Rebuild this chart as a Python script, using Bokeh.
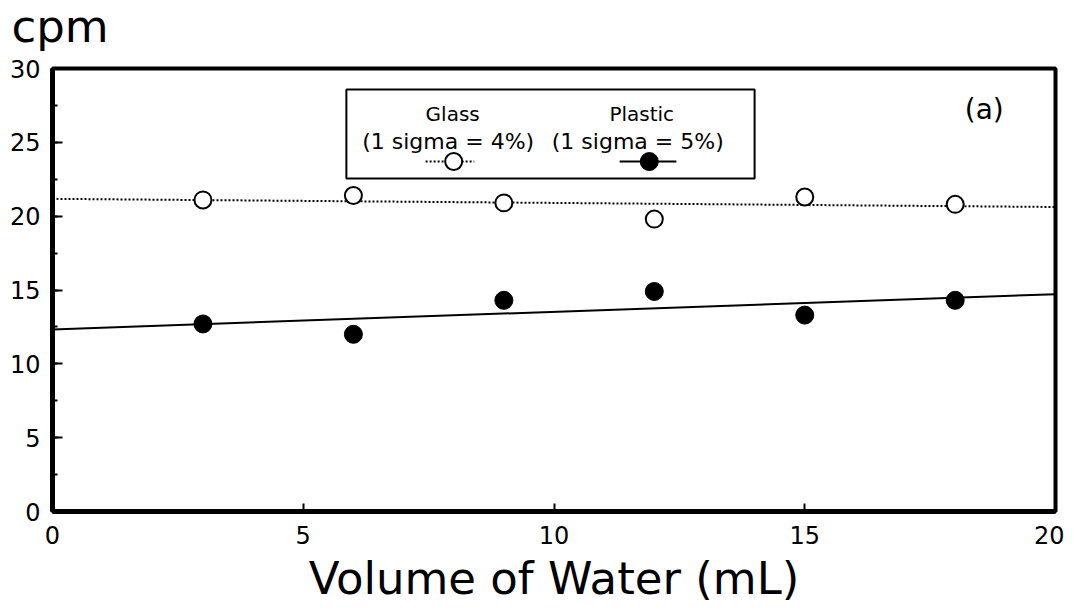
import numpy as np
from bokeh.plotting import figure
from bokeh.models import SingleIntervalTicker, Label, BoxAnnotation, Range1d, ColumnDataSource, Title
from bokeh.embed import file_html
from bokeh.resources import INLINE

# ---- data ----
volume = [3, 6, 9, 12, 15, 18]
glass_cpm = [21.1, 21.4, 20.9, 19.8, 21.3, 20.8]
plastic_cpm = [12.7, 12.0, 14.3, 14.9, 13.3, 14.3]
x_ticks = [0, 5, 10, 15, 20]
y_ticks = [0, 5, 10, 15, 20, 25, 30]
fit_x = [0, 20]

FONT = "DejaVu Sans"

p = figure(frame_width=1003, frame_height=443,
           min_border_left=52, min_border_right=9,
           min_border_top=67, min_border_bottom=90,
           x_range=Range1d(0, 20), y_range=Range1d(0, 30),
           output_backend="svg", toolbar_location=None)
p.styles = {"margin-top": "-19px"}

p.background_fill_color = "white"
p.border_fill_color = "white"
p.outline_line_color = "black"
p.outline_line_width = 4
p.xgrid.visible = False
p.ygrid.visible = False

p.xaxis.ticker = SingleIntervalTicker(interval=5, num_minor_ticks=0)
p.yaxis.ticker = SingleIntervalTicker(interval=5, num_minor_ticks=2)
for ax in (p.xaxis[0], p.yaxis[0]):
    ax.axis_line_width = 5
    ax.axis_line_color = "black"
    ax.major_tick_out = 0
    ax.major_tick_line_width = 2
    ax.major_tick_line_color = "black"
    ax.major_label_text_font = FONT
    ax.major_label_text_font_size = "24px"
    ax.major_label_text_color = "black"
p.xaxis.major_tick_in = 8
p.xaxis.minor_tick_line_color = None
p.xaxis.major_label_standoff = 14
p.yaxis.major_tick_in = 10
p.yaxis.minor_tick_in = 5
p.yaxis.minor_tick_out = 0
p.yaxis.minor_tick_line_width = 2
p.yaxis.minor_tick_line_color = "black"
p.yaxis.major_label_standoff = 12

# x axis title
p.xaxis.axis_label = "Volume of Water (mL)"
p.xaxis.axis_label_text_font = FONT
p.xaxis.axis_label_text_font_size = "45px"
p.xaxis.axis_label_text_font_style = "normal"
p.xaxis.axis_label_text_color = "black"
p.xaxis.axis_label_standoff = 5

# y axis unit ("cpm") above the frame, at the left
p.add_layout(Title(text="cpm", align="left", offset=-41, standoff=32,
                   text_font=FONT, text_font_size="45px", text_font_style="normal",
                   text_color="black"), "above")

# fitted lines (least squares of the read points)
g_fit = np.polyfit(volume, glass_cpm, 1)
pl_fit = np.polyfit(volume, plastic_cpm, 1)
p.line(fit_x, list(np.polyval(g_fit, fit_x)), line_color="black", line_width=2, line_dash="2 2")
p.line(fit_x, list(np.polyval(pl_fit, fit_x)), line_color="black", line_width=2)

src = ColumnDataSource(dict(x=volume, g=glass_cpm, pl=plastic_cpm))
p.scatter("x", "g", source=src, size=17, fill_color="white", line_color="black", line_width=2)
p.scatter("x", "pl", source=src, size=18, fill_color="black", line_color="black")

# legend box
p.add_layout(BoxAnnotation(left=5.86, right=14.0, bottom=22.55, top=28.57,
                           fill_color=None, fill_alpha=0, line_color="black",
                           line_alpha=1, line_width=2))
def lab(x, y, t, size, align="center", base="middle"):
    p.add_layout(Label(x=x, y=y, text=t, text_font=FONT, text_font_size=size,
                       text_align=align, text_baseline=base, text_color="black"))
lab(7.98, 26.95, "Glass", "20px")
lab(11.75, 26.95, "Plastic", "20px")
lab(7.89, 25.05, "(1 sigma = 4%)", "22px")
lab(11.67, 25.05, "(1 sigma = 5%)", "22px")
p.line([7.44, 8.41], [23.70, 23.70], line_color="black", line_width=2, line_dash="2 2")
p.scatter([8.0], [23.70], size=17, fill_color="white", line_color="black", line_width=2)
p.line([11.31, 12.44], [23.70, 23.70], line_color="black", line_width=2)
p.scatter([11.9], [23.70], size=18, fill_color="black", line_color="black")

lab(18.58, 27.22, "(a)", "28px")

open("out.html", "w").write(file_html(p, INLINE))
